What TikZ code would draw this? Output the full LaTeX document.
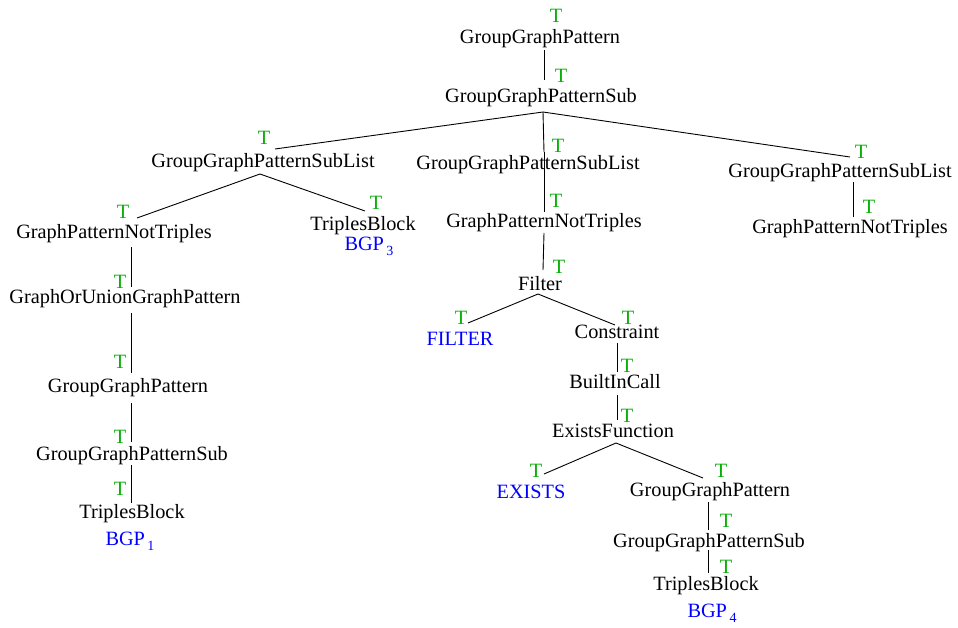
\documentclass[tikz,border=0pt]{standalone}
\usepackage{fontspec}
\setmainfont{Liberation Serif}
\definecolor{tgreen}{RGB}{10,175,10}
\definecolor{leafblue}{RGB}{0,0,255}
\newcommand\bgpsub[1]{BGP\kern2.5pt\raisebox{-5pt}{\fontsize{14}{14}\selectfont #1}}
\begin{document}
\begin{tikzpicture}[x=1pt,y=-1pt,
  lab/.style={font=\fontsize{20.3}{24}\selectfont, inner sep=0pt, anchor=base},
  leaf/.style={lab, text=leafblue},
  tmark/.style={lab, text=tgreen},
  conn/.style={line width=0.9pt, black}]

\useasboundingbox (0,0) rectangle (958,627);

% parse tree nodes (placed at their baselines)
\node[lab] (n1) at (540,43) {GroupGraphPattern};
\node[lab] (n2) at (541,102) {GroupGraphPatternSub};
\node[lab] (n3) at (263,167) {GroupGraphPatternSubList};
\node[lab] (n4) at (528,169) {GroupGraphPatternSubList};
\node[lab] (n5) at (840,177) {GroupGraphPatternSubList};
\node[lab] (n6) at (114,238) {GraphPatternNotTriples};
\node[lab] (n7) at (363,230) {TriplesBlock};
\node[lab] (n8) at (125,303) {GraphOrUnionGraphPattern};
\node[lab] (n9) at (128,392) {GroupGraphPattern};
\node[lab] (n10) at (132,460) {GroupGraphPatternSub};
\node[lab] (n11) at (132,518) {TriplesBlock};
\node[lab] (n12) at (544,227) {GraphPatternNotTriples};
\node[lab] (n13) at (540,290) {Filter};
\node[leaf] (n14) at (460,345) {FILTER};
\node[lab] (n15) at (617,338) {Constraint};
\node[lab] (n16) at (615,388) {BuiltInCall};
\node[lab] (n17) at (613,437) {ExistsFunction};
\node[leaf] (n18) at (531,498) {EXISTS};
\node[lab] (n19) at (710,496) {GroupGraphPattern};
\node[lab] (n20) at (709,547) {GroupGraphPatternSub};
\node[lab] (n21) at (706,590) {TriplesBlock};
\node[lab] (n22) at (850,233) {GraphPatternNotTriples};

% basic graph pattern labels
\node[leaf] (b7) at (369,250) {\bgpsub{3}};
\node[leaf] (b11) at (130,545) {\bgpsub{1}};
\node[leaf] (b21) at (712,617) {\bgpsub{4}};

% T annotations
\node[tmark] (t1) at (556,22) {T};
\node[tmark] (t2) at (561,82) {T};
\node[tmark] (t3) at (264,144) {T};
\node[tmark] (t4) at (558,152) {T};
\node[tmark] (t5) at (861,158) {T};
\node[tmark] (t6) at (123,218) {T};
\node[tmark] (t7) at (376,209) {T};
\node[tmark] (t8) at (120,288) {T};
\node[tmark] (t9) at (120,368) {T};
\node[tmark] (t10) at (120,443) {T};
\node[tmark] (t11) at (120,495) {T};
\node[tmark] (t12) at (556,207) {T};
\node[tmark] (t13) at (559,273) {T};
\node[tmark] (t14) at (461,324) {T};
\node[tmark] (t15) at (628,324) {T};
\node[tmark] (t16) at (627,372) {T};
\node[tmark] (t17) at (627,422) {T};
\node[tmark] (t18) at (536,477) {T};
\node[tmark] (t19) at (721,477) {T};
\node[tmark] (t20) at (726,527) {T};
\node[tmark] (t21) at (726,573) {T};
\node[tmark] (t22) at (869,213) {T};

% tree edges
\draw[conn] ([shift={(4,7)}]n1.base) -- ([shift={(3,-22)}]n2.base);
\draw[conn] ([shift={(12,-18)}]n3.base) -- ([shift={(2,10)}]n2.base) -- ([shift={(10,-20)}]n5.base);
\draw[conn] ([shift={(2,10)}]n2.base) -- ([shift={(16,-17)}]n4.base);
\draw[conn] ([shift={(23,-20)}]n6.base) -- ([shift={(-3,7)}]n3.base) -- ([shift={(2,-19)}]n7.base);
\draw[conn] ([shift={(17,9)}]n6.base) -- ([shift={(6,-16)}]n8.base);
\draw[conn] ([shift={(6,10)}]n8.base) -- ([shift={(3,-19)}]n9.base);
\draw[conn] ([shift={(3,11)}]n9.base) -- ([shift={(-1,-18)}]n10.base);
\draw[conn] ([shift={(-1,5)}]n10.base) -- ([shift={(-1,-15)}]n11.base);
\draw[conn] ([shift={(16,-17)}]n4.base) -- ([shift={(0,-15)}]n12.base);
\draw[conn] ([shift={(0,6)}]n12.base) -- ([shift={(3,-20)}]n13.base);
\draw[conn] ([shift={(8,-22)}]n14.base) -- ([shift={(-2,4)}]n13.base) -- ([shift={(-2,-13)}]n15.base);
\draw[conn] ([shift={(0,5)}]n15.base) -- ([shift={(2,-16)}]n16.base);
\draw[conn] ([shift={(2,7)}]n16.base) -- ([shift={(4,-17)}]n17.base);
\draw[conn] ([shift={(13,-24)}]n18.base) -- ([shift={(3,6)}]n17.base) -- ([shift={(-7,-18)}]n19.base);
\draw[conn] ([shift={(-2,6)}]n19.base) -- ([shift={(-1,-17)}]n20.base);
\draw[conn] ([shift={(-1,3)}]n20.base) -- ([shift={(2,-17)}]n21.base);
\draw[conn] ([shift={(13,5)}]n5.base) -- ([shift={(3,-16)}]n22.base);
\end{tikzpicture}
\end{document}
